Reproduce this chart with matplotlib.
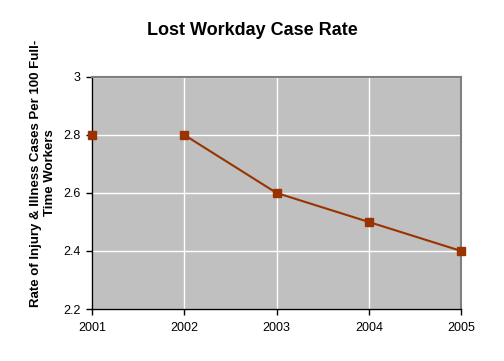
import matplotlib
matplotlib.use('Agg')
import matplotlib.pyplot as plt

plt.rcParams['font.family'] = ['Liberation Sans', 'DejaVu Sans']

# Data
years = [2001, 2002, 2003, 2004, 2005]
rates = [2.8, 2.8, 2.6, 2.5, 2.4]

fig = plt.figure(figsize=(5.04, 3.61), dpi=100)
ax = fig.add_axes([0.1825, 0.144, 0.7325, 0.643])
ax.set_facecolor('#C0C0C0')

brown = '#993300'
# first point stands alone (no connecting segment in the original)
ax.plot(years[:1], rates[:1], linestyle='none', marker='s', markersize=6,
        color=brown, clip_on=False, zorder=5)
ax.plot(years[1:], rates[1:], linestyle='-', linewidth=1.5, marker='s',
        markersize=6, color=brown, clip_on=False, zorder=5)

ax.set_xlim(2001, 2005)
ax.set_ylim(2.2, 3.0)
ax.set_xticks(years)
ax.set_xticklabels([str(y) for y in years])
ax.set_yticks([2.2, 2.4, 2.6, 2.8, 3.0])
ax.set_yticklabels(['2.2', '2.4', '2.6', '2.8', '3'])
ax.grid(True, color='white', linewidth=1)
ax.set_axisbelow(True)
ax.tick_params(labelsize=9, length=4, width=1, color='black')
ax.tick_params(axis='x', pad=5)
ax.tick_params(axis='y', pad=4)

for side in ['top', 'right']:
    ax.spines[side].set_color('#808080')
    ax.spines[side].set_linewidth(1.5)
for side in ['left', 'bottom']:
    ax.spines[side].set_color('black')
    ax.spines[side].set_linewidth(1)

fig.text(43 / 504, 1 - 173 / 361,
         'Rate of Injury & Illness Cases Per 100 Full-\nTime Workers',
         rotation=90, ha='center', va='center', multialignment='center',
         fontsize=9.5, fontweight='bold', linespacing=1.15)

fig.text(0.5, 0.915, 'Lost Workday Case Rate', ha='center', va='center',
         fontsize=13, fontweight='bold')

fig.savefig('out.png', dpi=100)
